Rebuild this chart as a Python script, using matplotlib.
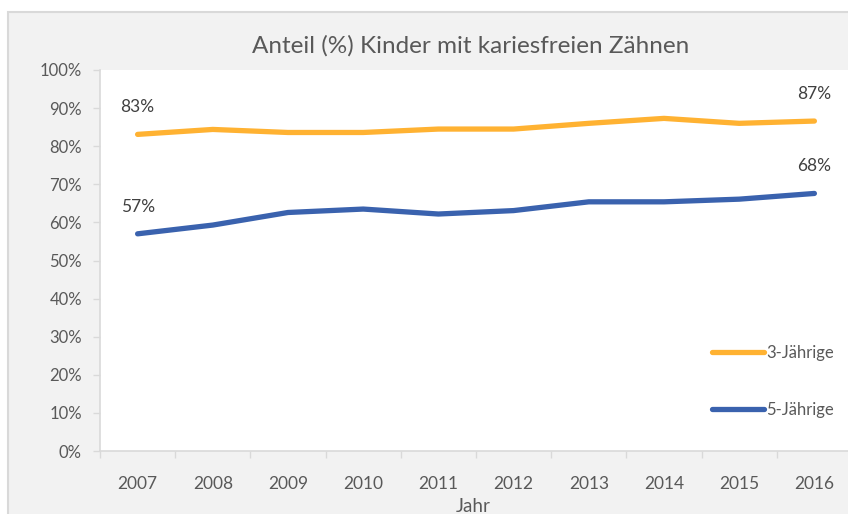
import matplotlib.pyplot as plt
from matplotlib.patches import Rectangle
from matplotlib.ticker import FuncFormatter

# Anteil kariesfreier Kinder je Jahrgang (in %)
jahre = ["2007", "2008", "2009", "2010", "2011", "2012", "2013", "2014", "2015", "2016"]
dreijaehrige = [83.1, 84.4, 83.6, 83.6, 84.5, 84.5, 86.0, 87.3, 86.0, 86.6]
fuenfjaehrige = [57.0, 59.3, 62.6, 63.5, 62.2, 63.1, 65.4, 65.4, 66.1, 67.6]

plt.rcParams['font.family'] = ['Lato', 'DejaVu Sans']

W, H = 848, 514
fig = plt.figure(figsize=(W / 100, H / 100), dpi=100, facecolor='white')

# grauer Diagrammbereich mit Rahmen
fig.patches.append(Rectangle((8 / W, -0.1), 1.2, 1 - 12 / H + 0.1,
                             transform=fig.transFigure, facecolor='#F2F2F2',
                             edgecolor='#D9D9D9', linewidth=1.5, zorder=-10))

ax = fig.add_axes([100 / W, (H - 451) / H, 752 / W, 381 / H])
ax.set_facecolor('white')

x = list(range(len(jahre)))
ax.plot(x, dreijaehrige, color='#FFB232', lw=3.8, solid_capstyle='round',
        solid_joinstyle='round', label='3-Jährige')
ax.plot(x, fuenfjaehrige, color='#3A62AE', lw=3.8, solid_capstyle='round',
        solid_joinstyle='round', label='5-Jährige')

# Werte am ersten und letzten Jahr beschriften
for serie in (dreijaehrige, fuenfjaehrige):
    for i in (0, len(serie) - 1):
        ax.annotate(f"{round(serie[i])}%", (x[i], serie[i]), xytext=(0, 19.5),
                    textcoords='offset points', ha='center', va='center',
                    fontsize=12.5, color='#404040')

ax.set_xlim(-0.5, len(jahre) - 0.5)
ax.set_ylim(0, 100)
ax.set_yticks(range(0, 101, 10))
ax.yaxis.set_major_formatter(FuncFormatter(lambda v, p: f"{v:.0f}%"))
ax.set_xticks(x)
ax.set_xticklabels(jahre)
ax.set_xticks([i - 0.5 for i in range(len(jahre) + 1)], minor=True)

ax.tick_params(axis='x', which='major', length=0, pad=18, labelsize=12.5, labelcolor='#595959')
ax.tick_params(axis='x', which='minor', length=5, width=1, color='#D9D9D9')
ax.tick_params(axis='y', length=5, width=1, color='#D9D9D9', pad=8,
               labelsize=12, labelcolor='#595959')

for s in ('top', 'right'):
    ax.spines[s].set_visible(False)
for s in ('left', 'bottom'):
    ax.spines[s].set_color('#D9D9D9')
    ax.spines[s].set_linewidth(1.2)

fig.text(471 / W, 1 - 46 / H, "Anteil (%) Kinder mit kariesfreien Zähnen",
         ha='center', va='center', fontsize=17.5, color='#595959')
fig.text(473 / W, 1 - 507 / H, "Jahr", ha='center', va='center',
         fontsize=13.5, color='#595959')

leg = ax.legend(loc='upper left', bbox_to_anchor=(712 / W, 1 - 345 / H),
                bbox_transform=fig.transFigure, frameon=False, fontsize=12,
                handlelength=3.1, handletextpad=0.15, labelspacing=2.45,
                borderpad=0, borderaxespad=0)
for t in leg.get_texts():
    t.set_color('#595959')

fig.savefig('out.png', dpi=100, facecolor='white')
